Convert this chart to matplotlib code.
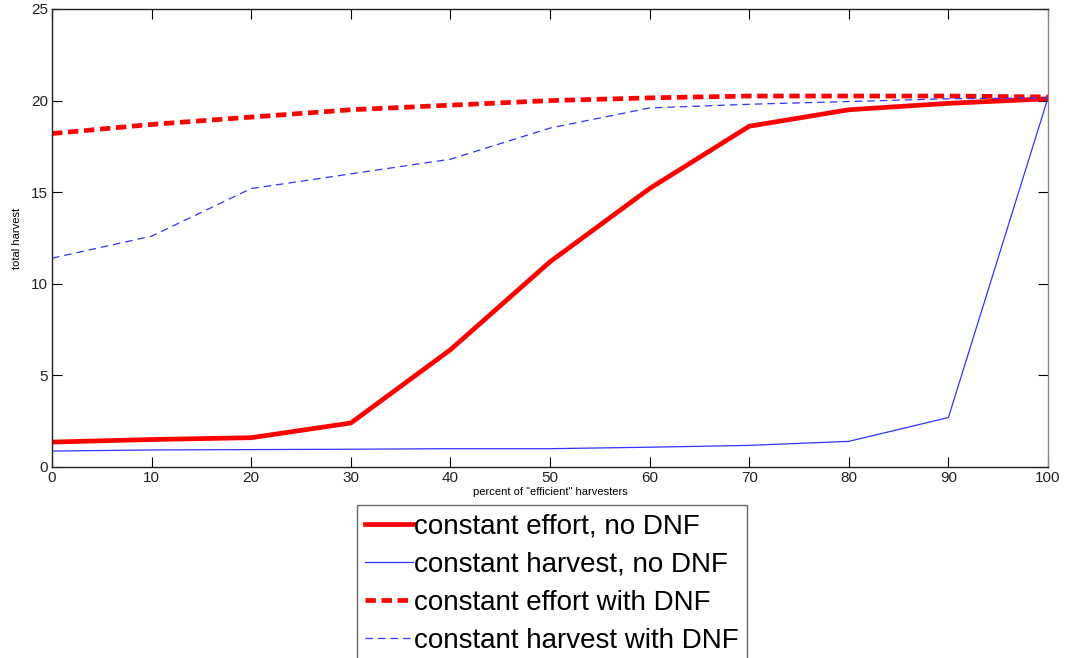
import matplotlib
matplotlib.use('Agg')
from matplotlib import pyplot as plt

plt.rcParams['font.family'] = ['Liberation Sans', 'DejaVu Sans']

# percent of "efficient" harvesters
pct = [0, 10, 20, 30, 40, 50, 60, 70, 80, 90, 100]

effort_no_dnf = [1.36, 1.5, 1.6, 2.4, 6.4, 11.2, 15.2, 18.6, 19.5, 19.85, 20.1]
harvest_no_dnf = [0.87, 0.93, 0.95, 0.97, 1.0, 1.0, 1.08, 1.18, 1.4, 2.7, 20.15]
effort_dnf = [18.2, 18.7, 19.1, 19.5, 19.75, 20.0, 20.15, 20.25, 20.25, 20.25, 20.2]
harvest_dnf = [11.4, 12.6, 15.2, 16.0, 16.8, 18.5, 19.6, 19.8, 19.95, 20.1, 20.15]

labels = ['constant effort, no DNF', 'constant harvest, no DNF',
          'constant effort with DNF', 'constant harvest with DNF']

fig = plt.figure(figsize=(10.77, 6.58), dpi=100)
ax = fig.add_axes([52/1077, 1-467/658, 996/1077, 458/658])

ax.plot(pct, effort_no_dnf, color='red', lw=3.4, label=labels[0])
ax.plot(pct, harvest_no_dnf, color='#3333ff', lw=0.9, label=labels[1])
ax.plot(pct, effort_dnf, color='red', lw=3.4, ls=(0, (2.2, 1.2)), label=labels[2])
ax.plot(pct, harvest_dnf, color='#3333ff', lw=0.9, ls=(0, (6, 4)), label=labels[3])

ax.set_xlim(0, 100)
ax.set_ylim(0, 25)
ax.set_xticks(pct)
ax.set_yticks([0, 5, 10, 15, 20, 25])
ax.tick_params(direction='in', top=True, right=True, length=7, labelsize=11,
               labelcolor='#222222', pad=3)
for s in ax.spines.values():
    s.set_linewidth(1.0)
    s.set_color('#222222')
ax.spines['right'].set_color('#888888')

ax.set_xlabel('percent of "efficient" harvesters', fontsize=8, labelpad=1)
ax.set_ylabel('total harvest', fontsize=8, labelpad=6)

leg = fig.legend(loc='upper center', bbox_to_anchor=(552/1077, 1-505/658),
                 fontsize=20, frameon=True, fancybox=False, handlelength=1.7,
                 handletextpad=0.05, borderpad=0.3, labelspacing=0.44,
                 borderaxespad=0)
leg.get_frame().set_edgecolor('#444444')
leg.get_frame().set_linewidth(1.0)

fig.savefig('out.png', dpi=100)
